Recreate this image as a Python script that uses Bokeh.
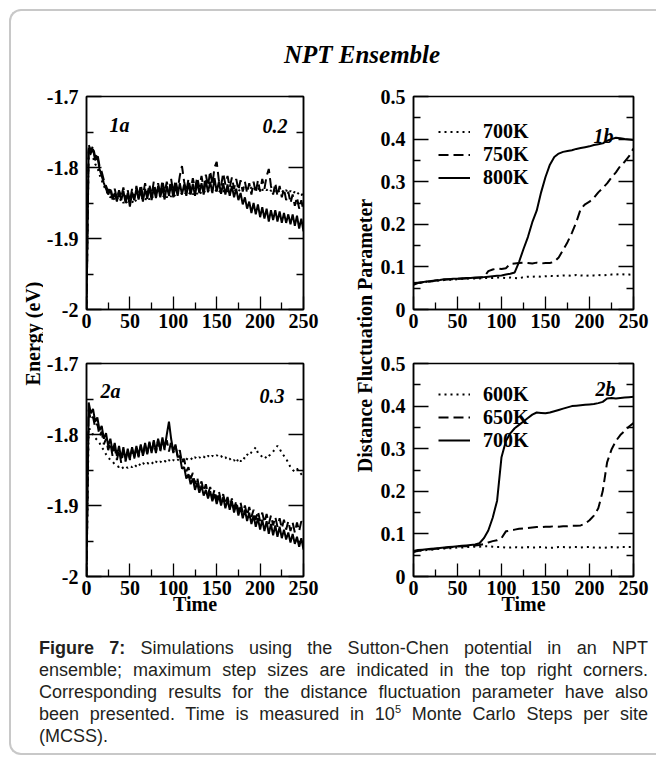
import numpy as np
from bokeh.plotting import figure
from bokeh.models import (Range1d, FixedTicker, LinearAxis, Label, Legend,
                          LegendItem, Div)
from bokeh.layouts import row, column
from bokeh.embed import file_html
from bokeh.resources import INLINE

SERIF = "Liberation Serif"

# ---------------- data ----------------
x_ticks = [0, 50, 100, 150, 200, 250]
x_minor = [25, 75, 125, 175, 225]
e_ticks = [-2.0, -1.9, -1.8, -1.7]
e_tick_labels = ["-2", "-1.9", "-1.8", "-1.7"]
e_minor = [-1.95, -1.85, -1.75]
d_ticks = [0.0, 0.1, 0.2, 0.3, 0.4, 0.5]
d_tick_labels = ["0", "0.1", "0.2", "0.3", "0.4", "0.5"]
d_minor = [0.05, 0.15, 0.25, 0.35, 0.45]

# time grid of the energy traces (step 2.5) and of the DFP traces (step 5)
t_energy = np.arange(0, 250.001, 2.5)
t_dfp = np.arange(0, 250.001, 5.0)

# Panel 1a (max step 0.2): energy (eV)
e1a_700 = [-2.000,
           -1.776, -1.782, -1.786, -1.795, -1.800, -1.810, -1.818, -1.826, -1.832, -1.838,
           -1.842, -1.840, -1.846, -1.842, -1.848, -1.844, -1.850, -1.846, -1.852, -1.846,
           -1.850, -1.844, -1.848, -1.842, -1.846, -1.842, -1.846, -1.841, -1.845, -1.840,
           -1.844, -1.840, -1.843, -1.839, -1.843, -1.838, -1.842, -1.838, -1.841, -1.837,
           -1.841, -1.836, -1.840, -1.836, -1.839, -1.835, -1.838, -1.834, -1.838, -1.834,
           -1.837, -1.833, -1.837, -1.833, -1.836, -1.832, -1.836, -1.832, -1.835, -1.831,
           -1.835, -1.831, -1.834, -1.830, -1.834, -1.830, -1.833, -1.830, -1.834, -1.831,
           -1.834, -1.830, -1.833, -1.829, -1.832, -1.828, -1.832, -1.828, -1.831, -1.828,
           -1.832, -1.829, -1.832, -1.829, -1.833, -1.830, -1.834, -1.831, -1.835, -1.832,
           -1.836, -1.832, -1.836, -1.833, -1.837, -1.834, -1.838, -1.835, -1.839, -1.836]
e1a_750 = [-2.000,
           -1.768, -1.776, -1.770, -1.786, -1.780, -1.798, -1.806, -1.818, -1.826, -1.834,
           -1.828, -1.842, -1.830, -1.844, -1.832, -1.842, -1.828, -1.846, -1.832, -1.848,
           -1.830, -1.844, -1.826, -1.842, -1.824, -1.840, -1.822, -1.838, -1.824, -1.840,
           -1.820, -1.836, -1.822, -1.838, -1.818, -1.836, -1.820, -1.834, -1.816, -1.836,
           -1.818, -1.832, -1.812, -1.798, -1.820, -1.834, -1.816, -1.832, -1.815, -1.830,
           -1.814, -1.828, -1.812, -1.830, -1.810, -1.826, -1.805, -1.824, -1.800, -1.792,
           -1.818, -1.826, -1.808, -1.824, -1.812, -1.828, -1.814, -1.830, -1.816, -1.832,
           -1.818, -1.834, -1.820, -1.836, -1.822, -1.838, -1.820, -1.836, -1.818, -1.834,
           -1.816, -1.830, -1.812, -1.802, -1.826, -1.838, -1.822, -1.840, -1.826, -1.842,
           -1.830, -1.846, -1.834, -1.850, -1.838, -1.854, -1.842, -1.858, -1.846, -1.862]
e1a_800 = [-2.000,
           -1.772, -1.780, -1.774, -1.790, -1.784, -1.802, -1.812, -1.822, -1.830, -1.838,
           -1.831, -1.845, -1.836, -1.848, -1.834, -1.846, -1.833, -1.850, -1.836, -1.855,
           -1.835, -1.846, -1.830, -1.845, -1.832, -1.848, -1.830, -1.844, -1.828, -1.846,
           -1.829, -1.843, -1.826, -1.842, -1.828, -1.845, -1.826, -1.840, -1.824, -1.842,
           -1.825, -1.840, -1.822, -1.838, -1.824, -1.840, -1.822, -1.838, -1.823, -1.840,
           -1.821, -1.836, -1.822, -1.838, -1.818, -1.835, -1.820, -1.836, -1.815, -1.834,
           -1.820, -1.837, -1.822, -1.838, -1.824, -1.840, -1.826, -1.842, -1.830, -1.846,
           -1.836, -1.852, -1.842, -1.858, -1.848, -1.864, -1.850, -1.866, -1.852, -1.870,
           -1.856, -1.872, -1.858, -1.876, -1.860, -1.874, -1.860, -1.876, -1.862, -1.878,
           -1.864, -1.878, -1.866, -1.880, -1.866, -1.882, -1.868, -1.886, -1.872, -1.890]

# Panel 2a (max step 0.3): energy (eV)
e2a_600 = [-2.000,
           -1.790, -1.795, -1.800, -1.805, -1.808, -1.812, -1.818, -1.822, -1.828, -1.832,
           -1.836, -1.838, -1.842, -1.844, -1.846, -1.844, -1.848, -1.845, -1.847, -1.844,
           -1.846, -1.842, -1.845, -1.841, -1.844, -1.840, -1.843, -1.840, -1.842, -1.839,
           -1.842, -1.838, -1.841, -1.838, -1.840, -1.837, -1.840, -1.836, -1.839, -1.836,
           -1.838, -1.835, -1.838, -1.835, -1.837, -1.834, -1.836, -1.833, -1.836, -1.832,
           -1.835, -1.832, -1.834, -1.831, -1.834, -1.830, -1.833, -1.830, -1.832, -1.829,
           -1.832, -1.830, -1.834, -1.832, -1.836, -1.834, -1.838, -1.836, -1.840, -1.834,
           -1.838, -1.832, -1.834, -1.828, -1.830, -1.825, -1.822, -1.818, -1.826, -1.828,
           -1.832, -1.830, -1.834, -1.830, -1.828, -1.824, -1.820, -1.816, -1.820, -1.826,
           -1.830, -1.834, -1.840, -1.846, -1.850, -1.852, -1.848, -1.852, -1.856, -1.860]
e2a_650 = [-2.000,
           -1.765, -1.780, -1.775, -1.790, -1.785, -1.802, -1.796, -1.814, -1.806, -1.822,
           -1.812, -1.830, -1.818, -1.836, -1.822, -1.840, -1.824, -1.838, -1.822, -1.836,
           -1.820, -1.834, -1.818, -1.832, -1.816, -1.830, -1.814, -1.828, -1.812, -1.826,
           -1.810, -1.826, -1.808, -1.824, -1.806, -1.822, -1.808, -1.824, -1.810, -1.826,
           -1.816, -1.830, -1.822, -1.840, -1.834, -1.852, -1.846, -1.862, -1.854, -1.870,
           -1.860, -1.876, -1.866, -1.880, -1.870, -1.884, -1.874, -1.888, -1.878, -1.892,
           -1.880, -1.894, -1.884, -1.898, -1.888, -1.902, -1.890, -1.904, -1.894, -1.908,
           -1.896, -1.910, -1.900, -1.914, -1.902, -1.916, -1.906, -1.920, -1.908, -1.922,
           -1.910, -1.924, -1.912, -1.926, -1.914, -1.928, -1.916, -1.930, -1.918, -1.932,
           -1.920, -1.934, -1.922, -1.936, -1.924, -1.938, -1.924, -1.936, -1.922, -1.928]
e2a_700 = [-2.000,
           -1.755, -1.770, -1.764, -1.782, -1.776, -1.794, -1.788, -1.806, -1.798, -1.816,
           -1.806, -1.824, -1.812, -1.830, -1.816, -1.834, -1.818, -1.836, -1.820, -1.834,
           -1.818, -1.832, -1.816, -1.830, -1.814, -1.830, -1.812, -1.826, -1.810, -1.826,
           -1.808, -1.824, -1.806, -1.822, -1.804, -1.820, -1.800, -1.782, -1.806, -1.824,
           -1.814, -1.832, -1.830, -1.848, -1.846, -1.862, -1.856, -1.870, -1.862, -1.878,
           -1.868, -1.882, -1.872, -1.886, -1.878, -1.890, -1.880, -1.894, -1.884, -1.898,
           -1.886, -1.900, -1.888, -1.904, -1.892, -1.906, -1.894, -1.910, -1.898, -1.914,
           -1.902, -1.918, -1.906, -1.922, -1.910, -1.926, -1.914, -1.930, -1.918, -1.934,
           -1.920, -1.936, -1.922, -1.940, -1.926, -1.942, -1.928, -1.944, -1.930, -1.946,
           -1.934, -1.948, -1.938, -1.952, -1.940, -1.954, -1.944, -1.958, -1.946, -1.962]

# Panel 1b: distance fluctuation parameter
d1b_700 = [0.060,
           0.062, 0.063, 0.065, 0.066, 0.067, 0.068, 0.069, 0.070, 0.070, 0.071,
           0.072, 0.072, 0.073, 0.073, 0.073, 0.074, 0.074, 0.074, 0.075, 0.075,
           0.074, 0.075, 0.074, 0.073, 0.076, 0.077, 0.077, 0.078, 0.077, 0.078,
           0.079, 0.078, 0.079, 0.080, 0.080, 0.079, 0.081, 0.080, 0.079, 0.080,
           0.080, 0.081, 0.080, 0.081, 0.082, 0.082, 0.083, 0.082, 0.082, 0.081]
d1b_750 = [0.058,
           0.062, 0.064, 0.065, 0.066, 0.068, 0.069, 0.070, 0.071, 0.071, 0.072,
           0.073, 0.073, 0.074, 0.074, 0.075, 0.076, 0.090, 0.094, 0.096, 0.095,
           0.097, 0.107, 0.108, 0.109, 0.110, 0.109, 0.108, 0.110, 0.108, 0.109,
           0.109, 0.112, 0.122, 0.140, 0.158, 0.180, 0.205, 0.236, 0.247, 0.253,
           0.262, 0.275, 0.285, 0.296, 0.310, 0.322, 0.337, 0.347, 0.360, 0.378]
d1b_800 = [0.062,
           0.063, 0.064, 0.066, 0.067, 0.068, 0.069, 0.071, 0.071, 0.072, 0.072,
           0.073, 0.074, 0.074, 0.075, 0.075, 0.076, 0.077, 0.078, 0.079, 0.080,
           0.082, 0.084, 0.087, 0.112, 0.142, 0.170, 0.205, 0.232, 0.275, 0.311,
           0.340, 0.358, 0.366, 0.370, 0.372, 0.374, 0.377, 0.379, 0.381, 0.383,
           0.386, 0.388, 0.390, 0.396, 0.400, 0.403, 0.402, 0.400, 0.399, 0.398]

# Panel 2b: distance fluctuation parameter
d2b_600 = [0.058,
           0.060, 0.061, 0.062, 0.063, 0.064, 0.065, 0.066, 0.066, 0.067, 0.068,
           0.068, 0.069, 0.069, 0.070, 0.070, 0.071, 0.071, 0.070, 0.069, 0.069,
           0.068, 0.068, 0.069, 0.068, 0.068, 0.069, 0.068, 0.068, 0.069, 0.068,
           0.067, 0.068, 0.069, 0.069, 0.068, 0.069, 0.069, 0.068, 0.069, 0.069,
           0.068, 0.068, 0.067, 0.068, 0.069, 0.068, 0.069, 0.069, 0.069, 0.069]
d2b_650 = [0.058,
           0.060, 0.062, 0.063, 0.064, 0.065, 0.066, 0.067, 0.068, 0.069, 0.070,
           0.071, 0.071, 0.072, 0.073, 0.074, 0.076, 0.080, 0.083, 0.085, 0.090,
           0.106, 0.108, 0.110, 0.112, 0.113, 0.114, 0.115, 0.116, 0.116, 0.117,
           0.117, 0.118, 0.117, 0.118, 0.118, 0.119, 0.119, 0.120, 0.124, 0.132,
           0.143, 0.160, 0.200, 0.268, 0.298, 0.318, 0.332, 0.342, 0.352, 0.360]
d2b_700 = [0.060,
           0.062, 0.063, 0.064, 0.065, 0.066, 0.067, 0.068, 0.069, 0.070, 0.071,
           0.072, 0.073, 0.074, 0.075, 0.078, 0.090, 0.108, 0.138, 0.178, 0.280,
           0.318, 0.336, 0.348, 0.356, 0.364, 0.372, 0.380, 0.385, 0.384, 0.383,
           0.385, 0.388, 0.391, 0.394, 0.397, 0.400, 0.401, 0.402, 0.403, 0.404,
           0.405, 0.407, 0.410, 0.418, 0.419, 0.418, 0.419, 0.420, 0.421, 0.422]

legend_1b = ["700K", "750K", "800K"]
legend_2b = ["600K", "650K", "700K"]

# ---------------- styling helpers ----------------
DOT = "2 4"
DASH = "10 5"


def style_axis(ax, tick_in, minor_in, standoff):
    ax.major_label_text_font = SERIF
    ax.major_label_text_font_style = "bold"
    ax.major_label_text_font_size = "20px"
    ax.major_label_text_color = "black"
    ax.axis_line_color = "black"
    ax.axis_line_width = 1.5
    ax.major_tick_line_color = "black"
    ax.minor_tick_line_color = "black"
    ax.major_tick_line_width = 1.3
    ax.minor_tick_line_width = 1.3
    ax.major_tick_in = tick_in
    ax.major_tick_out = 0
    ax.minor_tick_in = minor_in
    ax.minor_tick_out = 0
    ax.major_label_standoff = standoff


def panel(width, height, borders, yr, yticks, ylabels, yminor, xlabel=None):
    l, r, t, b = borders
    p = figure(width=width, height=height, x_range=Range1d(0, 250),
               y_range=Range1d(*yr), output_backend="svg",
               toolbar_location=None, min_border_left=l,
               min_border_right=r, min_border_top=t, min_border_bottom=b)
    p.xgrid.visible = False
    p.ygrid.visible = False
    p.outline_line_color = "black"
    p.outline_line_width = 1.5
    p.background_fill_color = "white"
    p.border_fill_color = "white"
    xa = p.xaxis[0]
    ya = p.yaxis[0]
    xa.ticker = FixedTicker(ticks=x_ticks, minor_ticks=x_minor)
    ya.ticker = FixedTicker(ticks=yticks, minor_ticks=yminor)
    ya.major_label_overrides = dict(zip(yticks, ylabels))
    style_axis(xa, 13, 7, 4)
    style_axis(ya, 15, 7, 8)
    if xlabel:
        xa.axis_label = xlabel
        xa.axis_label_text_font = SERIF
        xa.axis_label_text_font_style = "bold"
        xa.axis_label_text_font_size = "20px"
        xa.axis_label_text_color = "black"
        xa.axis_label_standoff = -5
    ra = LinearAxis(ticker=FixedTicker(ticks=yticks, minor_ticks=yminor))
    style_axis(ra, 15, 7, 0)
    ra.major_label_text_font_size = "1px"
    ra.major_label_text_color = None
    p.add_layout(ra, "right")
    return p


def tag(p, text, x, y):
    p.add_layout(Label(x=x, y=y, x_units="screen", y_units="screen",
                       text=text, text_font=SERIF,
                       text_font_style="bold italic",
                       text_font_size="20px", text_color="black",
                       text_align="left", text_baseline="middle"))


def label_fig(width, height, text, x, y):
    p = figure(width=width, height=height, output_backend="svg",
               toolbar_location=None, x_axis_type=None, y_axis_type=None,
               min_border_left=0, min_border_right=0, min_border_top=0,
               min_border_bottom=0, x_range=Range1d(0, 1), y_range=Range1d(0, 1))
    p.outline_line_color = None
    p.grid.visible = False
    p.add_layout(Label(x=x, y=y, x_units="screen", y_units="screen",
                       text=text, angle=np.pi / 2, text_font=SERIF,
                       text_font_style="bold", text_font_size="20px",
                       text_color="black", text_align="center",
                       text_baseline="middle"))
    return p


def add_legend(p, renderers, labels, loc, row_h):
    items = [LegendItem(label=lab, renderers=[r]) for lab, r in zip(labels, renderers)]
    lg = Legend(items=items, location=loc, orientation="vertical",
                label_text_font=SERIF, label_text_font_style="bold",
                label_text_font_size="20px", label_text_color="black",
                glyph_width=32, glyph_height=row_h, label_height=row_h,
                spacing=0, padding=0, margin=0, label_standoff=13,
                border_line_color=None, background_fill_alpha=0)
    p.add_layout(lg)


# ---------------- panels ----------------
f1a = panel(284, 256, (41, 24, 12, 31), (-2.0, -1.7), e_ticks, e_tick_labels, e_minor)
f1a.line(t_energy, e1a_700, line_color="black", line_width=2, line_dash=DOT)
f1a.line(t_energy, e1a_750, line_color="black", line_width=2, line_dash=DASH)
f1a.line(t_energy, e1a_800, line_color="black", line_width=2)
tag(f1a, "1a", 23, 185)
tag(f1a, "0.2", 176, 184)

f2a = panel(284, 280, (41, 24, 23, 44), (-2.0, -1.7), e_ticks, e_tick_labels, e_minor,
            xlabel="Time")
f2a.line(t_energy, e2a_600, line_color="black", line_width=2, line_dash=DOT)
f2a.line(t_energy, e2a_650, line_color="black", line_width=2, line_dash=DASH)
f2a.line(t_energy, e2a_700, line_color="black", line_width=2)
tag(f2a, "2a", 14, 186)
tag(f2a, "0.3", 173, 181)

f1b = panel(282, 256, (39, 23, 12, 31), (0.0, 0.5), d_ticks, d_tick_labels, d_minor)
r1 = f1b.line(t_dfp, d1b_700, line_color="black", line_width=2, line_dash=DOT)
r2 = f1b.line(t_dfp, d1b_750, line_color="black", line_width=2, line_dash=DASH)
r3 = f1b.line(t_dfp, d1b_800, line_color="black", line_width=2)
add_legend(f1b, [r1, r2, r3], legend_1b, (25, 120.5), 21)
tag(f1b, "1b", 180, 174)

f2b = panel(282, 280, (39, 23, 23, 44), (0.0, 0.5), d_ticks, d_tick_labels, d_minor,
            xlabel="Time")
s1 = f2b.line(t_dfp, d2b_600, line_color="black", line_width=2, line_dash=DOT)
s2 = f2b.line(t_dfp, d2b_650, line_color="black", line_width=2, line_dash=DASH)
s3 = f2b.line(t_dfp, d2b_700, line_color="black", line_width=2)
add_legend(f2b, [s1, s2, s3], legend_2b, (25, 124.3), 20)
tag(f2b, "2b", 182, 188)

lab_l = label_fig(32, 536, "Energy (eV)", 21, 287)
lab_m = label_fig(47, 536, "Distance Fluctuation Parameter", 37, 285)

# ---------------- title and caption ----------------
title_html = (
    '<div style="position:relative;width:645px;height:73px;">'
    '<span style="position:absolute;left:351px;top:30px;transform:translateX(-50%);'
    "white-space:nowrap;font-family:'Liberation Serif';font-weight:bold;"
    'font-style:italic;font-size:25px;line-height:28px;color:black;">'
    'NPT Ensemble</span></div>')
title_div = Div(text=title_html, width=645, height=73, margin=0)

caption_lines = [
    "<b>Figure 7:</b> Simulations using the Sutton-Chen potential in an NPT",
    "ensemble; maximum step sizes are indicated in the top right corners.",
    "Corresponding results for the distance fluctuation parameter have also",
    "been presented. Time is measured in 10<span style=\"font-size:11px;"
    "vertical-align:7px;line-height:0;\">5</span> Monte Carlo Steps per site",
    "(MCSS).",
]
just = "text-align:justify;text-align-last:justify;white-space:nowrap;"
cap_inner = "".join(
    '<div style="%s">%s</div>' % (just if i < len(caption_lines) - 1 else "white-space:nowrap;", ln)
    for i, ln in enumerate(caption_lines))
caption_html = (
    '<div style="margin-left:28px;padding-top:17px;width:609px;'
    "font-family:'Liberation Sans';font-size:18px;line-height:22px;color:#231f20;\">"
    + cap_inner + '</div>')
caption_div = Div(text=caption_html, width=645, height=133, margin=0)

grid = row(lab_l, column(f1a, f2a), lab_m, column(f1b, f2b))
root = column(title_div, grid, caption_div, margin=(9, 0, 0, 9),
              styles={"border-left": "2px solid #c8c8c8",
                      "border-top": "2px solid #c8c8c8",
                      "border-bottom": "2px solid #c8c8c8",
                      "border-top-left-radius": "12px",
                      "border-bottom-left-radius": "12px",
                      "background-color": "white"})

open("out.html", "w").write(file_html(root, INLINE))
